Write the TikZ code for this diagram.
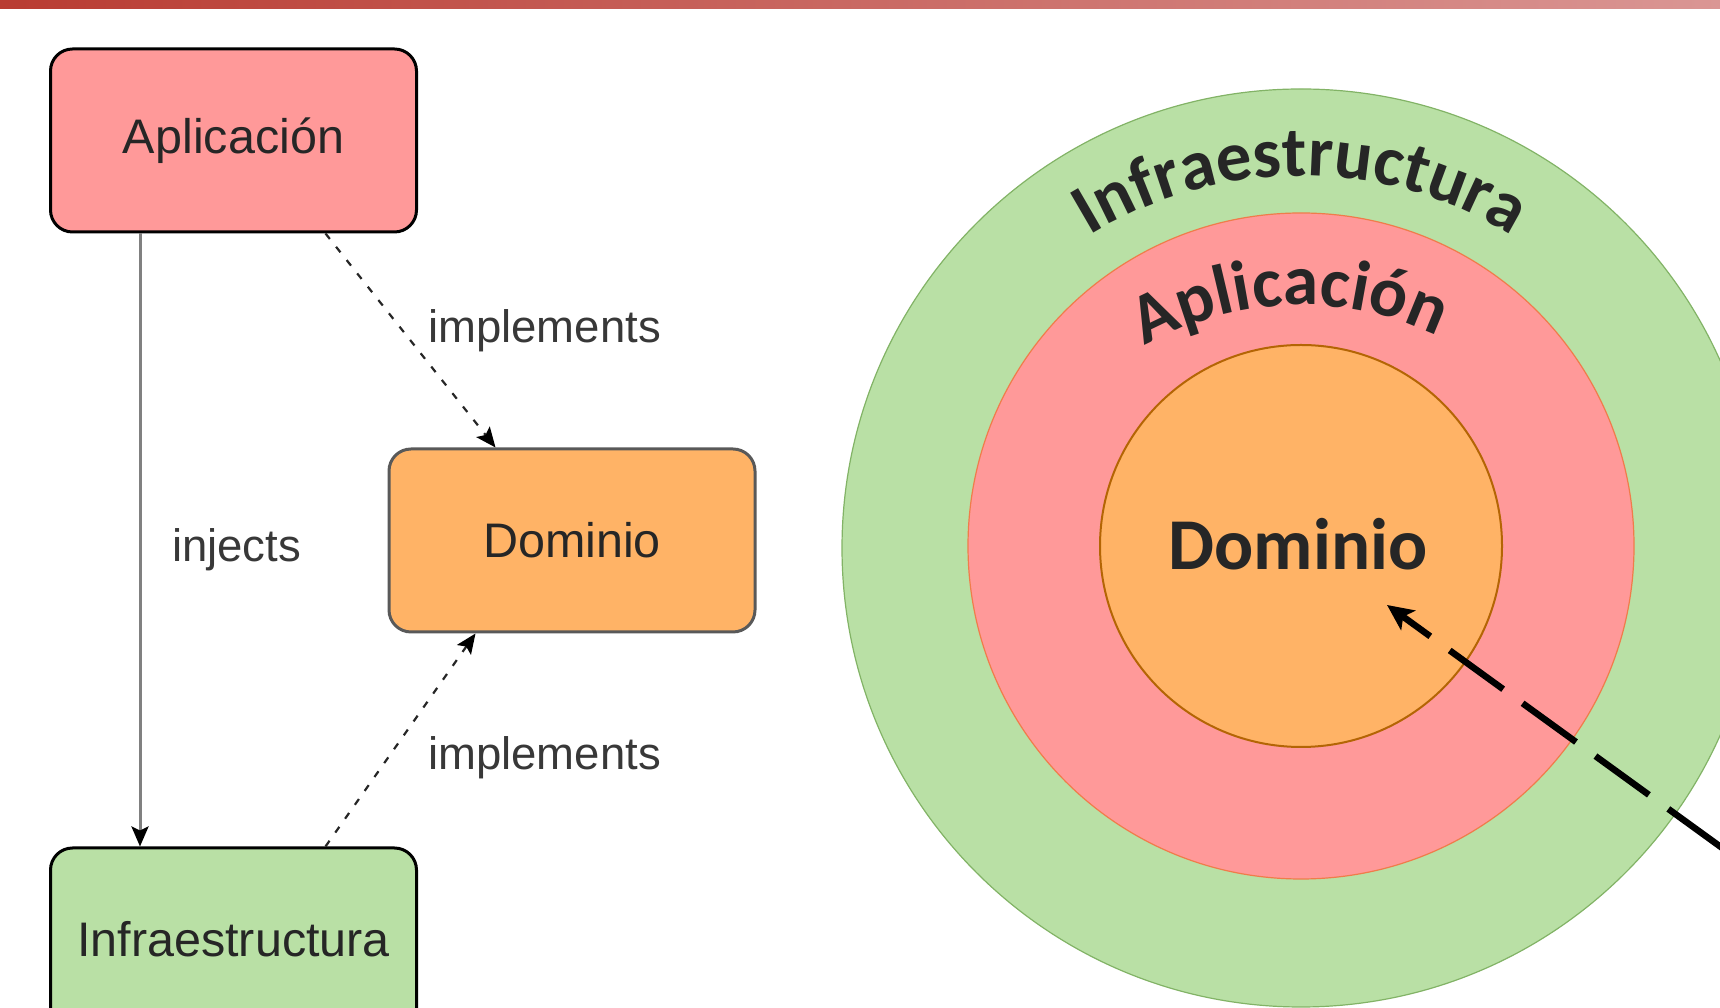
\documentclass[tikz,border=0pt]{standalone}
\usepackage{fontspec}
\setmainfont{Liberation Sans}
\newfontfamily\carl{Carlito}
\usetikzlibrary{arrows.meta,decorations.text}
\definecolor{appfill}{HTML}{FF9999}
\definecolor{domfill}{HTML}{FFB366}
\definecolor{inffill}{HTML}{B9E0A5}
\definecolor{infline}{HTML}{82B366}
\definecolor{appline}{HTML}{F07C4A}
\definecolor{domline}{HTML}{B46504}
\definecolor{txt}{HTML}{262626}
\definecolor{barL}{RGB}{185,60,50}
\definecolor{barR}{RGB}{218,150,148}
\tikzset{
  box/.style={draw, line width=3pt, rounded corners=22pt, minimum width=366pt,
    minimum height=183pt, inner sep=0pt, font=\fontsize{48.5}{58}\selectfont, text=black!85},
  lbl/.style={font=\fontsize{45.5}{55}\selectfont, text=black!78, inner sep=0pt, anchor=base},
  dotarrow/.style={draw=black!85, line width=2.2pt, dash pattern=on 7pt off 10pt,
    -{Stealth[length=20pt,width=17pt,inset=4pt,color=black]}},
  injarrow/.style={draw=black!50, line width=3pt,
    -{Stealth[length=20pt,width=17pt,inset=4pt,color=black]}},
  ringtext/.style={decorate, decoration={text along path, text align=center, text color=txt}}
}
\begin{document}
\begin{tikzpicture}[x=1pt,y=1pt]
\useasboundingbox (0,0) rectangle (1720,1008);
\clip (0,0) rectangle (1720,1008);
% top bar
\fill[left color=barL, right color=barR] (0,999) rectangle (1720,1008);

% left diagram
\node[box, fill=appfill] (app) at (233.5,867.5) {Aplicación};
\node[box, fill=domfill, draw=black!65] (dom) at (572,467.5) {Dominio};
\node[box, fill=inffill] (inf) at (233.5,68.5) {Infraestructura};

\draw[injarrow] ([xshift=91pt]app.south west) -- ([xshift=91pt]inf.north west);
\draw[dotarrow] ([xshift=276.5pt]app.south west) -- ([xshift=108pt]dom.north west);
\draw[dotarrow] ([xshift=276.5pt]inf.north west) -- ([xshift=88pt]dom.south west);

\node[lbl] (inj) at (236.5,446) {injects};
\node[lbl] (impl1) at (544.5,665) {implements};
\node[lbl] (impl2) at (544.5,238) {implements};

% right diagram
\coordinate (c) at (1301,462);
\filldraw[fill=inffill, draw=infline, line width=1.2pt] (1301,460) circle (459);
\filldraw[fill=appfill, draw=appline, line width=1.2pt] (c) circle (333);
\filldraw[fill=domfill, draw=domline, line width=2pt] (c) circle (201);

\path[ringtext, decoration={text={|\carl\bfseries\fontsize{71}{80}\selectfont|Infraestructura}}]
  (1301,428) ++(150:404) arc[start angle=150, end angle=30, radius=404];
\path[ringtext, decoration={text={|\carl\bfseries\fontsize{71}{80}\selectfont|Aplicación}}]
  (1301,388) ++(152:315) arc[start angle=152, end angle=32, radius=315];

\node[font=\carl\bfseries\fontsize{73}{80}\selectfont, text=txt, anchor=base, inner sep=0pt] (domt) at (1298,438) {Dominio};

\coordinate (tip) at (1387,403);
\coordinate (far) at (1800,103.6);
\draw[line width=6.5pt, dash pattern=on 66pt off 24pt, dash phase=31pt,
  {Stealth[length=26pt,width=24pt,inset=6pt]}-] (tip) -- (far);
\end{tikzpicture}
\end{document}
